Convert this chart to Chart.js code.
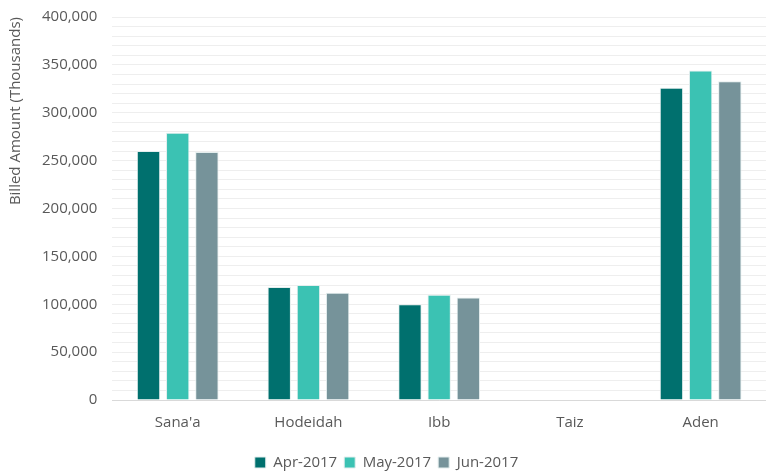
<!DOCTYPE html>
<html>
<head>
<meta charset="utf-8">
<script src="https://cdn.jsdelivr.net/npm/chart.js@4/dist/chart.umd.min.js"></script>
<style>
  html, body { margin: 0; padding: 0; background: #fff; }
  #wrap { width: 766px; height: 473px; position: relative; }
</style>
</head>
<body>
<div id="wrap"><canvas id="billed"></canvas></div>
<script>
// Billed amount per governorate, in thousands
const regions = ["Sana'a", "Hodeidah", "Ibb", "Taiz", "Aden"];
const apr2017 = [260000, 118000, 100000, null, 326000];
const may2017 = [279000, 120000, 110000, null, 344000];
const jun2017 = [259000, 112000, 107000, null, 333000];

const seriesNames = ["Apr-2017", "May-2017", "Jun-2017"];
const seriesColors = ["#00706E", "#3BC2B3", "#76939A"];

const font = "'Open Sans', 'Liberation Sans', sans-serif";

const ctx = document.getElementById('billed').getContext('2d');
new Chart(ctx, {
    type: 'bar',
    data: {
        labels: regions,
        datasets: [apr2017, may2017, jun2017].map((vals, i) => ({
            label: seriesNames[i],
            data: vals,
            backgroundColor: seriesColors[i],
            borderColor: '#E4EEEE',
            borderWidth: 1,
            barPercentage: 0.8,
            categoryPercentage: 0.67
        }))
    },
    options: {
        responsive: true,
        maintainAspectRatio: false,
        animation: false,
        layout: { padding: { top: 17, right: 0, left: 7, bottom: -7 } },
        plugins: {
            legend: {
                position: 'bottom',
                labels: {
                    boxWidth: 11,
                    boxHeight: 11,
                    padding: 7,
                    color: '#595959',
                    font: { family: font, size: 15 }
                }
            },
            tooltip: { enabled: false }
        },
        scales: {
            x: {
                grid: { display: false },
                border: { color: '#D9D9D9', width: 1 },
                ticks: { color: '#595959', font: { family: font, size: 15 }, padding: 6 },
                // extra room between the category labels and the legend
                afterFit: s => { s.height += 10; }
            },
            y: {
                min: 0,
                max: 400000,
                border: { display: false },
                grid: { color: '#EEEEEE', lineWidth: 1, drawTicks: false },
                // let the top tick label sit in the layout padding
                afterFit: s => { s.paddingTop = 0; },
                ticks: {
                    stepSize: 10000,
                    autoSkip: false,
                    padding: 15,
                    color: '#595959',
                    font: { family: font, size: 15 },
                    callback: v => v % 50000 === 0 ? v.toLocaleString('en-US') : ''
                },
                title: {
                    display: true,
                    text: 'Billed Amount (Thousands)',
                    align: 'end',
                    color: '#595959',
                    font: { family: font, size: 15 },
                    padding: { top: 0, bottom: 2 }
                }
            }
        }
    }
});
</script>
</body>
</html>
